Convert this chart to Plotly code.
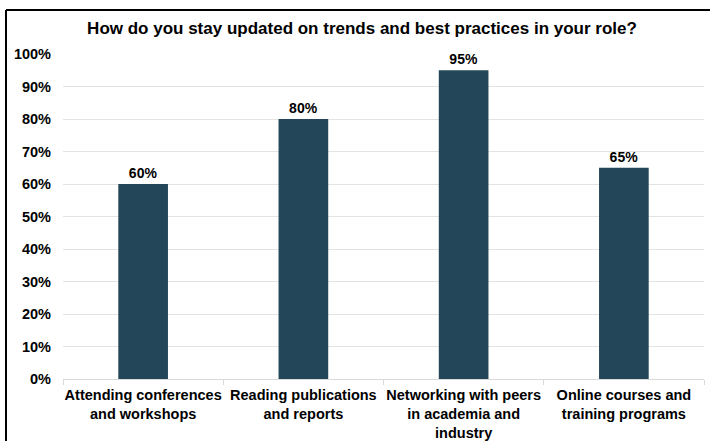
import plotly.graph_objects as go

# Survey results: share of respondents using each channel
categories = [
    "Attending conferences<br>and workshops",
    "Reading publications<br>and reports",
    "Networking with peers<br>in academia and<br>industry",
    "Online courses and<br>training programs",
]
shares = [0.60, 0.80, 0.95, 0.65]
y_ticks = [i / 10 for i in range(11)]
y_tick_labels = [f"{i * 10}%" for i in range(11)]

FONT = "Liberation Sans, Arial, sans-serif"
W, H = 710, 441
ML, MR, MT, MB = 63, 6, 54, 62


def px_to_paper_x(px):
    return (px - ML) / (W - ML - MR)


def px_to_paper_y(py):
    return (H - MB - py) / (H - MT - MB)


fig = go.Figure(
    go.Bar(
        x=categories,
        y=shares,
        marker=dict(color="#234759", line=dict(width=0)),
        text=[f"{v:.0%}" for v in shares],
        textposition="outside",
        textfont=dict(family=FONT, size=14, color="#000000", weight="bold"),
        cliponaxis=False,
        width=0.31,
    )
)

fig.update_layout(
    width=W,
    height=H,
    margin=dict(l=ML, r=MR, t=MT, b=MB, autoexpand=False),
    paper_bgcolor="white",
    plot_bgcolor="white",
    showlegend=False,
    font=dict(family=FONT, size=14, color="#000000"),
    title=dict(
        text="<b>How do you stay updated on trends and best practices in your role?</b>",
        font=dict(family=FONT, size=17, color="#000000"),
        x=px_to_paper_x(362),
        xref="paper",
        xanchor="center",
        y=1 - 28 / H,
        yref="container",
        yanchor="middle",
    ),
    xaxis=dict(
        showgrid=False,
        showline=True,
        linecolor="#d9d9d9",
        linewidth=1,
        ticks="outside",
        tickson="boundaries",
        ticklen=5,
        tickcolor="#d9d9d9",
        tickangle=0,
        automargin=False,
        ticklabelstandoff=3,
        tickfont=dict(family=FONT, size=14.5, color="#000000", weight="bold"),
    ),
    yaxis=dict(
        range=[0, 1.0],
        tickvals=y_ticks,
        ticktext=y_tick_labels,
        showgrid=True,
        gridcolor="#e3e3e3",
        gridwidth=1,
        zeroline=False,
        ticks="",
        ticklabelstandoff=11,
        automargin=False,
        tickfont=dict(family=FONT, size=14.5, color="#000000", weight="bold"),
    ),
    shapes=[
        # outer frame (top and left edges)
        dict(
            type="line", xref="paper", yref="paper",
            x0=px_to_paper_x(6), x1=px_to_paper_x(720),
            y0=px_to_paper_y(10), y1=px_to_paper_y(10),
            line=dict(color="#000000", width=2),
        ),
        dict(
            type="line", xref="paper", yref="paper",
            x0=px_to_paper_x(6), x1=px_to_paper_x(6),
            y0=px_to_paper_y(10), y1=px_to_paper_y(450),
            line=dict(color="#000000", width=2),
        ),
    ],
)

fig.write_html("out.html")
